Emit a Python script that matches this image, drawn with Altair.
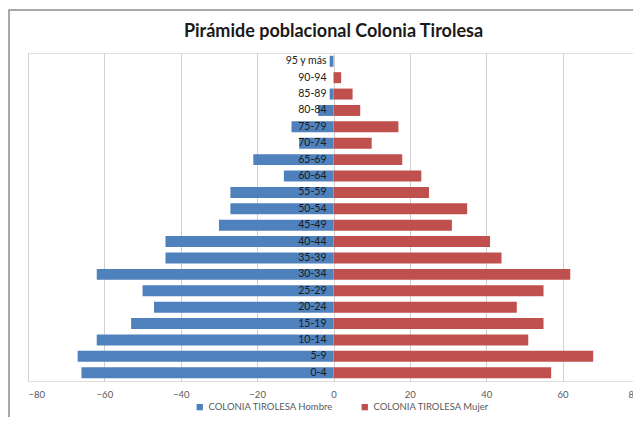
import altair as alt
import pandas as pd

ages = ["0-4", "5-9", "10-14", "15-19", "20-24", "25-29", "30-34", "35-39",
        "40-44", "45-49", "50-54", "55-59", "60-64", "65-69", "70-74",
        "75-79", "80-84", "85-89", "90-94", "95 y más"]
hombre = [66, 67, 62, 53, 47, 50, 62, 44, 44, 30, 27, 27, 13, 21, 9, 11, 4, 1, 0, 1]
mujer = [57, 68, 51, 55, 48, 55, 62, 44, 41, 31, 35, 25, 23, 18, 10, 17, 7, 5, 2, 0]
series = ["COLONIA TIROLESA Hombre", "COLONIA TIROLESA Mujer"]
colors = ["#4F81BD", "#C0504D"]
x_ticks = [-80, -60, -40, -20, 0, 20, 40, 60, 80]

rows = []
for a, h, m in zip(ages, hombre, mujer):
    rows.append({"edad": a, "serie": series[0], "valor": -h})
    rows.append({"edad": a, "serie": series[1], "valor": m})
df = pd.DataFrame(rows)
labels = pd.DataFrame({"edad": ages})

order = list(reversed(ages))
FONT = "Lato"

y_enc = alt.Y("edad:N", sort=order, axis=None,
              scale=alt.Scale(paddingInner=0.33, paddingOuter=0.17))

bars = alt.Chart(df).mark_bar().encode(
    x=alt.X("valor:Q",
            scale=alt.Scale(domain=[-80, 80], nice=False),
            axis=alt.Axis(values=x_ticks, title=None, domain=False, ticks=False,
                          grid=True, gridColor="#d0d0d0", labelColor="#595959",
                          labelFontSize=9.5, labelFont=FONT, labelPadding=8)),
    y=y_enc,
    color=alt.Color("serie:N", scale=alt.Scale(domain=series, range=colors),
                    legend=alt.Legend(title=None, orient="none", direction="horizontal",
                                      legendX=167, legendY=349, symbolType="square",
                                      symbolSize=40, symbolStrokeWidth=0,
                                      labelFontSize=9.5, labelFont=FONT,
                                      labelColor="#595959", columnPadding=26,
                                      symbolOffset=0)),
)

text = alt.Chart(labels).mark_text(align="right", dx=-7, fontSize=10.5, font=FONT,
                                   color="#1a1a1a").encode(
    x=alt.datum(0),
    y=alt.Y("edad:N", sort=order),
    text="edad:N",
)

frame = alt.Chart(labels).mark_rect(fill=None, stroke="#8c8c8c", strokeWidth=1.5).encode(
    x=alt.value(-19), x2=alt.value(700), y=alt.value(-43), y2=alt.value(500)
).transform_filter(alt.datum.edad == "0-4")

chart = alt.layer(bars, text, frame).properties(
    width=611, height=328,
    title=alt.TitleParams("Pirámide poblacional Colonia Tirolesa", font=FONT,
                          fontSize=18, fontWeight="bold", color="#1a1a1a",
                          anchor="middle", offset=-32, frame="group"),
    autosize="none",
    padding={"left": 20, "top": 45, "right": -6, "bottom": 36},
).configure_view(stroke=None).configure(background="white")

chart.save("out.html", embed_options={"renderer": "svg", "actions": False})
